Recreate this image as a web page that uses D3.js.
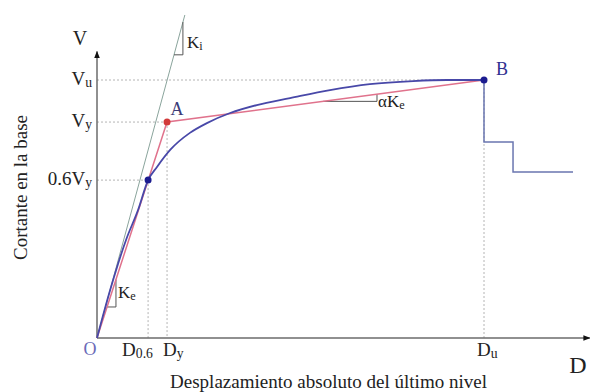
<!DOCTYPE html>
<html>
<head>
<meta charset="utf-8">
<script src="https://cdn.jsdelivr.net/npm/d3@7"></script>
<style>
  body { margin: 0; background: #fff; }
  text { font-family: "Liberation Serif", "Times New Roman", serif; fill: #222; }
</style>
</head>
<body>
<svg id="chart"></svg>
<script>
// normalised units: Du = 1, Vu = 1
const D06 = 0.132, Dy = 0.181, Du = 1;
const V06 = 0.612, Vy = 0.837, Vu = 1;

// capacity curve (blue)
const curveD = [0, 0.034, 0.075, 0.106, 0.132, 0.155, 0.189, 0.240, 0.284, 0.344, 0.413, 0.499, 0.602, 0.705, 0.817, 0.904, 1.0];
const curveV = [0, 0.186, 0.380, 0.496, 0.612, 0.663, 0.729, 0.795, 0.833, 0.872, 0.903, 0.930, 0.961, 0.984, 0.996, 1.0, 1.0];

// bilinear idealisation O - A - B
const bilinD = [0, Dy, Du];
const bilinV = [0, Vy, Vu];

// strength drop after B
const dropD = [1.0, 1.0, 1.075, 1.075, 1.23];
const dropV = [1.0, 0.760, 0.760, 0.643, 0.643];

// initial stiffness Ki line (from O)
const kiD = [0, 0.227];
const kiV = [0, 1.252];

// tick labels
const yTicks = [V06, Vy, Vu];
const yTickMain = ["0.6V", "V", "V"];
const yTickSub = ["y", "y", "u"];
const xTicks = [D06, Dy, Du];
const xTickMain = ["D", "D", "D"];
const xTickSub = ["0.6", "y", "u"];

const width = 590, height = 392;
const svg = d3.select("#chart").attr("width", width).attr("height", height);

const x = d3.scaleLinear().domain([0, 1]).range([97, 484]);
const y = d3.scaleLinear().domain([0, 1]).range([338, 80]);

const defs = svg.append("defs");
defs.append("marker")
  .attr("id", "arrow")
  .attr("viewBox", "0 0 10 10")
  .attr("refX", 9).attr("refY", 5)
  .attr("markerWidth", 7).attr("markerHeight", 7)
  .attr("markerUnits", "userSpaceOnUse")
  .attr("orient", "auto")
  .append("path")
  .attr("d", "M0,1 L10,5 L0,9 Z")
  .attr("fill", "#111");

// guide lines (dotted)
const guides = svg.append("g")
  .attr("stroke", "#b4b4b4")
  .attr("stroke-width", 1)
  .attr("stroke-dasharray", "2,2");
const guidePts = [[D06, V06], [Dy, Vy], [Du, Vu]];
guidePts.forEach(p => {
  guides.append("line")
    .attr("x1", x(0)).attr("y1", y(p[1]))
    .attr("x2", x(p[0])).attr("y2", y(p[1]));
  guides.append("line")
    .attr("x1", x(p[0])).attr("y1", y(p[1]))
    .attr("x2", x(p[0])).attr("y2", y(0));
});

// axes
svg.append("line")
  .attr("x1", x(0)).attr("y1", y(0))
  .attr("x2", x(0)).attr("y2", y(1.11))
  .attr("stroke", "#6b6b6b").attr("stroke-width", 1.5)
  .attr("marker-end", "url(#arrow)");
svg.append("line")
  .attr("x1", x(0)).attr("y1", y(0))
  .attr("x2", x(1.273)).attr("y2", y(0))
  .attr("stroke", "#6b6b6b").attr("stroke-width", 1.5)
  .attr("marker-end", "url(#arrow)");

const line = d3.line().x(d => x(d[0])).y(d => y(d[1]));

// Ki line
svg.append("path")
  .attr("d", line(d3.zip(kiD, kiV)))
  .attr("fill", "none")
  .attr("stroke", "#8aa49c")
  .attr("stroke-width", 1);

// slope triangles
const slopeTri = (d0, v0, d1, slope) => {
  const pts = [[d0, v0], [d1, v0], [d1, v0 + slope * (d1 - d0)]];
  svg.append("path")
    .attr("d", line(pts))
    .attr("fill", "none")
    .attr("stroke", "#555")
    .attr("stroke-width", 1);
};
const kiSlope = kiV[1] / kiD[1];
const keSlope = Vy / Dy;
const aSlope = (Vu - Vy) / (Du - Dy);
slopeTri(0.199, 0.199 * kiSlope, 0.222, kiSlope);
slopeTri(0.026, 0.026 * keSlope, 0.049, keSlope);
slopeTri(0.584, Vy + (0.584 - Dy) * aSlope, 0.7235, aSlope);

// bilinear (red)
svg.append("path")
  .attr("d", line(d3.zip(bilinD, bilinV)))
  .attr("fill", "none")
  .attr("stroke", "#e0728c")
  .attr("stroke-width", 1.5);

// capacity curve (blue)
svg.append("path")
  .attr("d", line.curve(d3.curveMonotoneX)(d3.zip(curveD, curveV)))
  .attr("fill", "none")
  .attr("stroke", "#4848a8")
  .attr("stroke-width", 1.8);
line.curve(d3.curveLinear);

// drop after B
svg.append("path")
  .attr("d", line(d3.zip(dropD, dropV)))
  .attr("fill", "none")
  .attr("stroke", "#6a76b0")
  .attr("stroke-width", 1.5);

// points
svg.append("circle").attr("cx", x(D06)).attr("cy", y(V06)).attr("r", 3.5).attr("fill", "#1c1c90");
svg.append("circle").attr("cx", x(Dy)).attr("cy", y(Vy)).attr("r", 3.5).attr("fill", "#d23a3a");
svg.append("circle").attr("cx", x(Du)).attr("cy", y(Vu)).attr("r", 3.5).attr("fill", "#1c1c90");

// label helper with subscript
const subText = (px, py, main, sub, size, anchor, color) => {
  const t = svg.append("text")
    .attr("x", px).attr("y", py)
    .attr("font-size", size + "px")
    .attr("text-anchor", anchor);
  if (color) t.style("fill", color);
  t.append("tspan").text(main);
  if (sub) t.append("tspan").attr("font-size", (size * 0.72) + "px").attr("dy", 2).text(sub);
  return t;
};

// y tick labels
yTicks.forEach((v, i) => subText(92, y(v) + 5, yTickMain[i], yTickSub[i], 19, "end"));

// x tick labels
const xNudge = [-26, -4, -7];
xTicks.forEach((d, i) => subText(x(d) + xNudge[i], 356, xTickMain[i], xTickSub[i], 19, "start"));

// axis letters
svg.append("text").attr("x", 80).attr("y", 45).attr("font-size", "20px").attr("text-anchor", "middle").text("V");
svg.append("text").attr("x", 578).attr("y", 373).attr("font-size", "24px").attr("text-anchor", "middle").text("D");
svg.append("text").attr("x", 90).attr("y", 355).attr("font-size", "18px").attr("text-anchor", "middle").style("fill", "#6a6ab8").text("O");
svg.append("text").attr("x", x(Dy) + 10).attr("y", y(Vy) - 7).attr("font-size", "18px").attr("text-anchor", "middle").style("fill", "#3c3c78").text("A");
svg.append("text").attr("x", x(Du) + 18).attr("y", y(Vu) - 5).attr("font-size", "18px").attr("text-anchor", "middle").style("fill", "#303090").text("B");

// stiffness labels
subText(187, 48, "K", "i", 17, "start");
subText(118, 298, "K", "e", 17, "start");
subText(378, 107, "αK", "e", 17, "start");

// axis titles
svg.append("text")
  .attr("x", 170).attr("y", 388)
  .attr("font-size", "18px")
  .attr("textLength", 317)
  .attr("lengthAdjust", "spacingAndGlyphs")
  .text("Desplazamiento absoluto del último nivel");
svg.append("text")
  .attr("transform", "translate(27,260) rotate(-90)")
  .attr("font-size", "18px")
  .attr("textLength", 145)
  .attr("lengthAdjust", "spacingAndGlyphs")
  .text("Cortante en la base");
</script>
</body>
</html>
